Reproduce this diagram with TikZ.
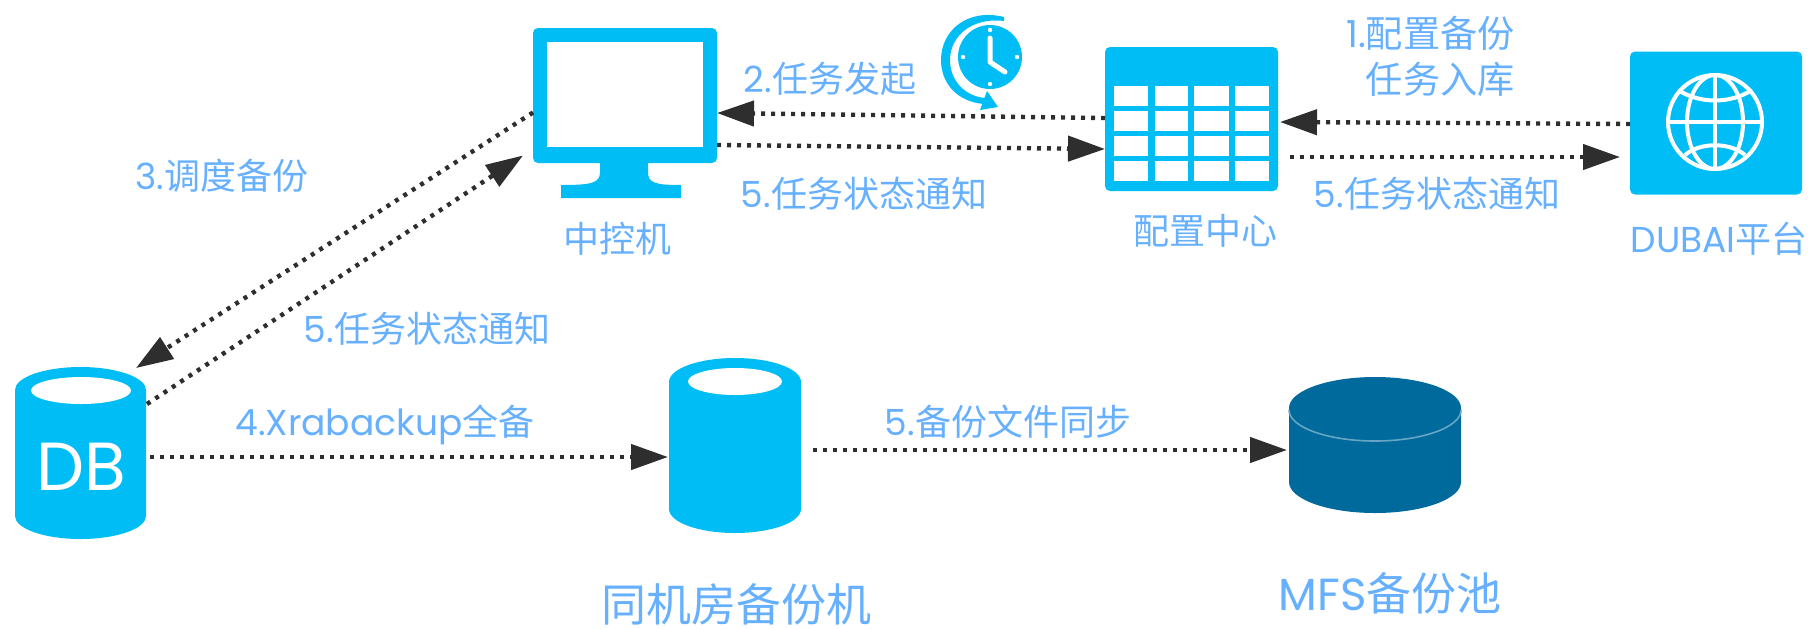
\documentclass[tikz,border=0pt]{standalone}
\usepackage{fontspec}
\setmainfont{Poppins}
\newfontfamily\cjkf{Noto Sans CJK SC}
\newfontfamily\latf{Poppins}
\usetikzlibrary{arrows.meta,calc}
\definecolor{skyb}{HTML}{00BEF5}
\definecolor{deepb}{HTML}{006A9C}
\definecolor{lab}{HTML}{66B0FF}
\definecolor{dotc}{HTML}{2E2E2E}
\newcommand{\mix}[2]{{\latf #1}{\cjkf #2}}
\tikzset{
  txt/.style={text=lab,inner sep=0pt,font=\fontsize{18}{22}\selectfont,align=center},
  bigtxt/.style={text=lab,inner sep=0pt,font=\fontsize{22.5}{26}\selectfont},
  body/.style={inner sep=0pt,outer sep=0pt,rectangle},
  flow/.style={draw=dotc,line width=2.2pt,dash pattern=on 2pt off 3pt,
    -{Triangle[length=18.5pt,width=12.5pt,color=dotc,fill=dotc,sep=0pt]},shorten >=0pt},
  tile/.style={fill=skyb,rounded corners=2.5pt,draw=none},
  cell/.style={fill=white,draw=none},
  globe/.style={draw=white,line width=2pt}
}
\begin{document}
\begin{tikzpicture}[x=0.5pt,y=-0.5pt]
\useasboundingbox (0,0) rectangle (1813,628);
% monitor
\node[body,minimum width=92pt,minimum height=67.5pt,tile] (mon) at (625,95.5) {};
\fill[white] (547,42) rectangle (703,147);
\fill[skyb] (600,160) -- (648,160) -- (648,172) .. controls (648,183) and (655,185) .. (681,185) -- (681,198) -- (561,198) -- (561,185) .. controls (592,185) and (600,183) .. (600,172) -- cycle;
% clock
\fill[skyb] (990,57) circle (32);
\fill[white] (990,30) circle (2.2) (990,84) circle (2.2) (963,57) circle (2.2) (1017,57) circle (2.2);
\draw[white,line width=2.5pt,line cap=round,line join=round] (990,38) -- (990,62) -- (1005,72);
\fill[skyb] (1004,17) .. controls (968,8) and (941,30) .. (941,60) .. controls (941,84) and (958,102) .. (984,104) -- (985,98) .. controls (964,96) and (950,80) .. (950,60) .. controls (950,36) and (972,17) .. (1004,21) -- cycle;
\fill[skyb] (987,91) -- (998,107) -- (980,110) -- cycle;
% table
\node[body,minimum width=86.5pt,minimum height=72pt,tile] (tab) at (1191.5,119) {};
\foreach \cx/\cw in {1114/34,1155/33,1194/35,1235/34}
  \foreach \cy in {86,111,136,161}
    \fill[white] (\cx,\cy) rectangle ++(\cw,20);
% dubai tile
\node[body,minimum width=86pt,minimum height=71.5pt,tile] (dub) at (1716,123) {};
\draw[globe] (1715,122) circle (47);
\draw[globe] (1715,122) ellipse (28 and 47);
\draw[globe] (1715,75) -- (1715,169) (1668,122) -- (1762,122);
\draw[globe] (1678,90) .. controls (1700,104) and (1730,104) .. (1752,90);
\draw[globe] (1685,155) .. controls (1700,142) and (1730,142) .. (1745,155);
% db cylinder
\fill[skyb] (15,390) arc[start angle=180,end angle=360,x radius=65.5,y radius=23] -- (146,516) arc[start angle=0,end angle=180,x radius=65.5,y radius=23] -- cycle;
\fill[white] (81,390.5) ellipse (50 and 13.5);
\node[body,minimum width=65.5pt,minimum height=86pt] (db) at (80.5,453) {};
\node[inner sep=0pt,text=white,font=\fontsize{34}{38}\selectfont\latf] (dbt) at (81,467) {DB};
% backup cylinder
\fill[skyb] (669,382) arc[start angle=180,end angle=360,x radius=66,y radius=24] -- (801,509) arc[start angle=0,end angle=180,x radius=66,y radius=24] -- cycle;
\fill[white] (735,381.5) ellipse (47 and 13.5);
\node[body,minimum width=66pt,minimum height=87.5pt] (bak) at (735,445.5) {};
% mfs cylinder
\fill[deepb] (1289,408) arc[start angle=180,end angle=360,x radius=86,y radius=31] -- (1461,482) arc[start angle=0,end angle=180,x radius=86,y radius=31] -- cycle;
\draw[color=deepb!60!white,line width=0.8pt] (1289,410) arc[start angle=180,end angle=0,x radius=86,y radius=31];
\node[body,minimum width=86pt,minimum height=68pt] (mfs) at (1375,445) {};
% connectors
\draw[flow] ($(tab.west)+(0,-1)$) -- ($(mon.east)+(0,17.5)$);
\draw[flow] ($(mon.east)+(0,49.5)$) -- ($(tab.west)+(0,30)$);
\draw[flow] ($(dub.west)+(0,1)$) -- ($(tab.east)+(2,3)$);
\draw[flow] ($(tab.east)+(12,38)$) -- ($(dub.west)+(-10,34)$);
\draw[flow] ($(mon.west)+(0,17)$) -- ($(db.north east)+(-10,1)$);
\draw[flow] ($(db.north east)+(1,37)$) -- ($(mon.west)+(-10,60)$);
\draw[flow] ($(db.east)+(4,4)$) -- ($(bak.west)+(-1,11.5)$);
\draw[flow] ($(bak.east)+(12,4.5)$) -- ($(mfs.west)+(-2,5)$);
% labels
\node[txt,align=right,font=\fontsize{18.6}{22}\selectfont,anchor=east] (l1) at (1515,56) {\mix{1.}{配置备份}\\[1pt]{\cjkf 任务入库}};
\node[txt] (l2) at (830,79) {\mix{2.}{任务发起}};
\node[txt] (l3) at (222,176) {\mix{3.}{调度备份}};
\node[txt] (l4) at (385,425) {\mix{4.Xrabackup}{全备}};
\node[txt] (l5a) at (864,194) {\mix{5.}{任务状态通知}};
\node[txt] (l5b) at (1437,194) {\mix{5.}{任务状态通知}};
\node[txt] (l5c) at (427,329) {\mix{5.}{任务状态通知}};
\node[txt] (l5d) at (1008,422) {\mix{5.}{备份文件同步}};
\node[txt] (n1) at (617,239) {\cjkf 中控机};
\node[txt] (n2) at (1205,231) {\cjkf 配置中心};
\node[txt] (n3) at (1719,239) {\mix{DUBAI}{平台}};
\node[bigtxt] (n4) at (736,604) {\cjkf 同机房备份机};
\node[bigtxt] (n5) at (1390,593) {\mix{MFS}{备份池}};
\end{tikzpicture}
\end{document}
